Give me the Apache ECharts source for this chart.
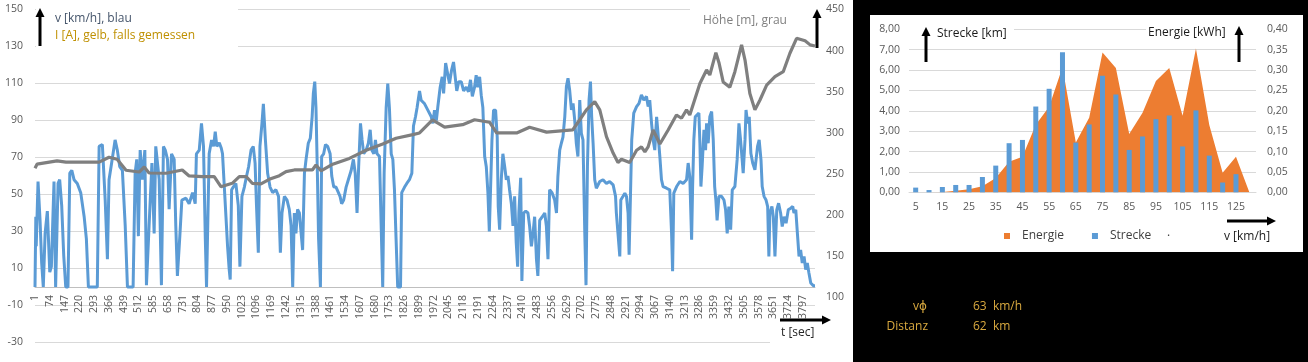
<!DOCTYPE html>
<html><head><meta charset="utf-8">
<script src="https://cdn.jsdelivr.net/npm/echarts/dist/echarts.min.js"></script>
<style>html,body{margin:0;padding:0;background:#000;}#c{width:1308px;height:362px;}</style>
</head><body><div id="c"></div>
<script>
// ---- left chart: tick labels of the time axis (seconds) ----
const xTickLabels = [1,74,147,220,293,366,439,512,585,658,731,804,877,950,1023,1096,1169,1242,1315,1388,1461,1534,1607,1680,1753,1826,1899,1972,2045,2118,2191,2264,2337,2410,2483,2556,2629,2702,2775,2848,2921,2994,3067,3140,3213,3286,3359,3432,3505,3578,3651,3724,3797];

// speed v [km/h] : [t, v]
const speedSeries = [
[0,0],[4,38],[6,22],[15,57],[25,36],[33,13],[41,0],[50,29],[61,41],[73,8],[81,11],[94,57],[102,0],[114,56],[122,58],[132,44],[142,17],[152,0],[163,0],[172,61.5],[182,63],[193,58],[209,56],[226,51],[243,38],[254,26],[264,0],[308,0],[317,76],[333,77],[347,47],[358,15],[366,58],[383,70],[396,79.5],[407,74],[419,65],[432,63],[446,33],[457,0],[485,0],[495,61.5],[503,69],[511,27.5],[520,74],[531,58],[543,74],[551,1],[564,33],[578,67],[589,29],[597,76],[614,58],[625,1],[635,76],
[644,74],[655,69],[663,42],[675,72],[688,69],[696,33],[704,6],[716,27.5],[726,47],[746,48],[762,45],[779,51],[792,45],[798,72],[812,74],[823,88.5],[833,76],[842,26],[848,0],[855,0],[861,72],[873,79.5],[883,76],[891,84],[899,76],[911,78],[921,75],[927,72],[936,54],[944,38],[952,22],[960,9.5],[965,4],[972,52.6],[980,54],[993,56],[1005,44],[1013,11],[1023,49],[1035,54],[1046,60],[1056,65],[1068,74],[1079,76],[1088,67],[1095,44],[1104,18.5],[1112,76],[1122,88.5],[1129,99],[1139,79.5],[1150,61.5],[1162,54],[1175,51],[1191,52.6],[1204,49],[1213,18.5],[1221,40],[1233,49],[1246,47],[1257,42],[1266,33],[1274,0],
[1282,40],[1290,29],[1298,42],[1307,40],[1315,41],[1323,20],[1332,61.5],[1340,69],[1351,77.7],[1361,80.4],[1370,92],[1376,104.6],[1383,111],[1389,97],[1396,61.5],[1402,26],[1411,0],[1417,70.5],[1427,72],[1436,77],[1447,76],[1459,72],[1467,60],[1477,54],[1488,54],[1500,51],[1508,49],[1516,45],[1526,47],[1538,54],[1549,58],[1563,63],[1574,69],[1583,61.5],[1592,40],[1600,65],[1609,88.5],[1617,79.5],[1625,72],[1637,74],[1648,77.7],[1657,85],[1665,74],[1675,72],[1683,79.5],[1691,72],[1703,70.5],[1711,34.6],[1719,0],[1726,61.5],[1736,97],[1744,110],[1752,97],[1761,72],[1769,69],[1777,52.6],[1785,26],[1793,0],[1807,0],[1813,51],[1827,54],[1838,56],[1851,58],[1863,61.5],[1871,87],[1881,92],[1889,97],[1901,106],[1909,101],
[1926,99],[1942,95.6],[1959,92],[1967,88.5],[1975,95.6],[1984,90],[1991,97],[2003,108],[2013,113.6],[2020,104.6],[2030,121],[2039,121],[2049,110],[2059,117],[2069,121.6],[2078,121],[2085,106],[2095,111],[2107,111],[2119,106],[2132,108],[2143,105.5],[2153,112],[2162,103],[2173,108],[2181,114.5],[2189,108],[2198,113.6],[2206,103.7],[2214,97],[2223,70.5],[2231,65],[2239,51],[2246,30],[2252,52.6],[2259,79.5],[2267,95.6],[2277,95.6],[2285,81],[2290,43.6],[2297,31],[2305,58],[2313,72],[2322,65],[2330,58],[2338,60],[2346,52.6],[2355,45],[2363,33],[2371,49],[2379,24],[2386,11],[2392,40],[2401,59],[2407,3.3],[2416,40],[2426,41],[2437,40],[2445,33],[2454,22],[2462,29],[2470,38],[2479,15],[2486,6],[2495,36],[2508,38],[2520,40],[2528,33],[2536,15],[2544,52.6],[2556,51],
[2569,47],[2578,40],[2585,59.7],[2594,74],[2602,77.7],[2610,81],[2619,92],[2627,108.3],[2635,112.8],[2643,106.5],[2652,95.7],[2660,99.3],[2668,90.3],[2676,77.7],[2684,70.5],[2693,101],[2701,83],[2709,79.5],[2718,29],[2724,1],[2731,65],[2739,101],[2746,111],[2752,92],[2759,77.7],[2767,58],[2775,53.4],[2792,57],[2808,58],[2825,56],[2841,57],[2858,55.2],[2870,49],[2874,40],[2882,29],[2891,16.5],[2896,47],[2907,49],[2916,50.7],[2924,49],[2932,40],[2937,17.4],[2944,50.7],[2950,79.5],[2960,94],[2974,97.5],[2986,99.3],[2998,103.8],[3010,101],[3023,103],[3031,97.5],[3039,101],[3048,88.5],[3056,79.5],[3064,74],[3073,92],[3080,83],[3089,70.5],[3097,58],[3105,54.3],[3122,53.4],[3138,52.5],[3147,29],[3152,8.5],[3158,50.7],[3172,54.3],[3188,57],[3204,56],
[3221,58],[3229,67],[3237,59.7],[3246,25.5],[3251,54.3],[3257,79.5],[3264,92],[3273,93],[3282,94],[3287,77.7],[3292,54.3],[3298,65],[3307,85],[3315,74],[3320,88.5],[3328,77.7],[3336,92],[3345,94.8],[3353,79.5],[3360,54.3],[3366,47],[3372,36],[3381,49],[3394,49],[3406,47],[3414,41.7],[3422,29],[3430,43.5],[3439,31],[3447,52.5],[3460,54.3],[3471,68.7],[3480,88.5],[3488,79.5],[3496,68.7],[3501,61.5],[3510,79.5],[3515,95.7],[3523,88.5],[3531,92],[3539,72.3],[3548,67],[3559,63.3],[3572,76],[3580,79.5],[3589,68.7],[3595,54.3],[3604,49],[3614,47],[3622,43.5],[3628,16.5],[3633,40],[3643,43.5],[3650,38],[3658,16.5],[3667,41.7],[3676,45.3],[3686,40],[3694,32.7],[3703,38],[3713,34.5],[3724,41.7],[3736,42.6],[3746,43.5],[3752,40],[3761,41.7],[3769,29],[3777,16.5],[3785,20],[3793,13],[3802,16.5],[3810,9.4],[3818,13],[3826,7.6],[3835,2.2],[3848,0.7],[3856,0.7]
];

// altitude Höhe [m] : [t, h]
const altitudeSeries = [
[0,257],[10,262],[109,266],[153,264.5],[317,264.5],[366,270.5],[406,268],[450,254.6],[515,252.5],[540,258.6],[564,251.3],[648,251],[728,255],[762,247.7],[827,247],[886,247],[919,234.7],[975,238.8],[1010,247],[1044,247],[1074,238.8],[1117,238],[1158,243.6],[1208,248],[1241,253],[1282,255],[1371,255],[1389,261],[1414,254],[1472,262],[1554,269],[1637,279],[1719,286.5],[1785,293.5],[1868,298],[1901,300],[1965,316],[2025,307],[2114,310],[2173,316],[2247,313],[2282,300],[2381,300],[2445,307],[2529,301],[2658,303.6],[2693,316],[2726,328],[2767,338],[2792,328],[2825,295.4],[2858,275.5],[2882,264],[2899,268],[2940,264],[2974,279],[2998,283],[3015,277],[3031,283],[3056,303.6],[3089,286.6],[3130,303.6],[3171,321.8],[3196,317.8],[3221,328],[3237,321.8],[3287,360],[3320,376.5],[3336,370.4],[3366,397.5],[3382,384.6],[3402,362],[3435,355.4],[3460,374.4],[3493,406.9],[3510,388.6],[3534,348],[3559,328],[3584,340],[3617,358],[3658,368.3],[3699,374.4],[3732,396.8],[3765,415],[3807,412],[3832,407],[3856,405.6]
];

// ---- right chart ----
const speedClasses = ['5','10','15','20','25','30','35','40','45','50','55','60','65','70','75','80','85','90','95','100','105','110','115','120','125','130'];
const energie = [0,0,0.001,0.0035,0.0075,0.015,0.035,0.075,0.0875,0.166,0.21,0.307,0.1225,0.183,0.343,0.305,0.143,0.195,0.273,0.305,0.188,0.353,0.165,0.048,0.0875,0];
const strecke = [0.23,0.11,0.26,0.36,0.36,0.75,1.31,2.41,2.57,4.21,5.08,6.87,2.44,3.33,5.72,4.80,2.08,2.74,3.59,3.77,2.25,4.02,1.80,0.48,0.89,0];

const FONT = '"Open Sans", "DejaVu Sans", sans-serif';
const AX = '#595959', GRID = '#D9D9D9', GOLD = '#D9A93F';
const comma = (d) => (v) => v.toFixed(d).replace('.', ',');

function txt(x, y, s, fill, align, size) {
  return { type: 'text', x: x, y: y, z: 60,
    style: { text: s, fill: fill, font: (size || 12) + 'px ' + FONT, align: align || 'left', verticalAlign: 'middle' } };
}
function cover(x, y, w, h) {
  return { type: 'rect', z: 50, shape: { x: x, y: y, width: w, height: h }, style: { fill: '#fff' } };
}
function vArrow(x, yTop, yBot) {
  return [
    { type: 'line', z: 61, shape: { x1: x, y1: yBot, x2: x, y2: yTop + 7 }, style: { stroke: '#000', lineWidth: 3 } },
    { type: 'polygon', z: 61, shape: { points: [[x, yTop], [x - 4.5, yTop + 9], [x + 4.5, yTop + 9]] }, style: { fill: '#000' } }
  ];
}
function hArrow(y, xL, xR) {
  return [
    { type: 'line', z: 61, shape: { x1: xL, y1: y, x2: xR - 7, y2: y }, style: { stroke: '#000', lineWidth: 3 } },
    { type: 'polygon', z: 61, shape: { points: [[xR, y], [xR - 9, y - 4.5], [xR - 9, y + 4.5]] }, style: { fill: '#000' } }
  ];
}
const G = { outerBoundsMode: 'none', containLabel: false };
const tickFmt = function (val) { const i = Math.round(val / 73); return (Math.abs(i * 73 - val) < 1e-6 && i < xTickLabels.length) ? String(xTickLabels[i]) : ''; };

const chart = echarts.init(document.getElementById('c'), null, { renderer: 'canvas' });
chart.setOption({
  animation: false,
  backgroundColor: '#000',
  textStyle: { fontFamily: FONT },
  grid: [
    Object.assign({ left: 35, top: 9.5, width: 780, height: 333 }, G),     // speed
    Object.assign({ left: 35, top: 9.5, width: 780, height: 288 }, G),     // altitude
    Object.assign({ left: 909, top: 29.3, width: 347, height: 163 }, G),   // histogram
    Object.assign({ left: 35, top: 9.5, width: 780, height: 277.5 }, G)    // time axis at v = 0
  ],
  legend: {
    data: [{ name: 'Energie', icon: 'rect' }, { name: 'Strecke', icon: 'rect' }],
    left: 999, top: 225, itemWidth: 6, itemHeight: 6, itemGap: 28,
    textStyle: { fontSize: 12, color: '#404040', fontFamily: FONT, padding: [0, 0, 0, 7] }
  },
  xAxis: [
    { type: 'value', gridIndex: 0, min: 0, max: 3856, show: false, splitLine: { show: false } },
    { type: 'value', gridIndex: 1, min: 0, max: 3856, show: false, splitLine: { show: false } },
    { type: 'category', gridIndex: 2, data: speedClasses, boundaryGap: true,
      axisLine: { lineStyle: { color: GRID } }, axisTick: { show: false },
      axisLabel: { interval: 1, fontSize: 10.5, color: AX, margin: 9 } },
    { type: 'value', gridIndex: 3, min: 0, max: 3856, interval: 73, position: 'bottom',
      axisLine: { show: true, onZero: false, lineStyle: { color: '#BFBFBF' } }, axisTick: { show: false }, splitLine: { show: false },
      axisLabel: { rotate: 90, fontSize: 10.5, color: AX, margin: 8, showMaxLabel: false, formatter: tickFmt } }
  ],
  yAxis: [
    { type: 'value', gridIndex: 0, min: -30, max: 150, interval: 20,
      axisLine: { show: false }, axisTick: { show: false },
      splitLine: { lineStyle: { color: GRID } }, axisLabel: { fontSize: 10.5, color: AX, margin: 12 } },
    { type: 'value', gridIndex: 1, position: 'right', min: 100, max: 450, interval: 50,
      axisLine: { show: false }, axisTick: { show: false }, splitLine: { show: false },
      axisLabel: { fontSize: 10.5, color: AX, margin: 11 } },
    { type: 'value', gridIndex: 2, min: 0, max: 8, interval: 1,
      axisLine: { show: false }, axisTick: { show: false },
      splitLine: { lineStyle: { color: GRID } }, axisLabel: { fontSize: 10.5, color: AX, margin: 9, formatter: comma(2) } },
    { type: 'value', gridIndex: 2, position: 'right', min: 0, max: 0.4, interval: 0.05,
      axisLine: { show: false }, axisTick: { show: false }, splitLine: { show: false },
      axisLabel: { fontSize: 10.5, color: AX, margin: 11, formatter: comma(2) } },
    { type: 'value', gridIndex: 3, min: 0, max: 150, show: false, splitLine: { show: false } }
  ],
  series: [
    { name: 'v', type: 'line', xAxisIndex: 0, yAxisIndex: 0, data: speedSeries, showSymbol: false, z: 2,
      lineStyle: { color: '#5B9BD5', width: 3 }, itemStyle: { color: '#5B9BD5' } },
    { name: 'Höhe', type: 'line', xAxisIndex: 1, yAxisIndex: 1, data: altitudeSeries, showSymbol: false, z: 3,
      lineStyle: { color: '#7F7F7F', width: 3.2 }, itemStyle: { color: '#7F7F7F' } },
    { name: 'Energie', type: 'line', xAxisIndex: 2, yAxisIndex: 3, data: energie, showSymbol: false, z: 2,
      color: '#ED7D31', lineStyle: { width: 0 }, areaStyle: { color: '#ED7D31', opacity: 1 } },
    { name: 'Strecke', type: 'bar', xAxisIndex: 2, yAxisIndex: 2, data: strecke, barWidth: 5, z: 3,
      itemStyle: { color: '#5B9BD5' } }
  ],
  graphic: { elements: [
    { type: 'rect', z: -10, shape: { x: 0, y: 0, width: 853, height: 362 }, style: { fill: '#fff' } },
    { type: 'rect', z: -10, shape: { x: 870, y: 15, width: 433, height: 237 }, style: { fill: '#fff' } },
    cover(36, 0, 202, 49), cover(690, 0, 126, 30), cover(770, 326, 82, 26),
    cover(906, 20, 108, 22), cover(1146, 20, 112, 22),
    txt(55, 19, 'v [km/h], blau', '#44546A'),
    txt(55, 36, 'I [A], gelb, falls gemessen', '#BF9000'),
    txt(703, 21, 'Höhe [m], grau', '#7F7F7F'),
    txt(781, 333, 't [sec]', '#262626'),
    txt(937, 34, 'Strecke [km]', '#1A1A1A'),
    txt(1148, 33, 'Energie [kWh]', '#1A1A1A'),
    txt(1224, 237, 'v [km/h]', '#1A1A1A'),
    txt(1167, 233, '.', '#404040'),
    txt(927, 307, 'vϕ', GOLD, 'right'),
    txt(973, 307, '63  km/h', GOLD),
    txt(928, 327, 'Distanz', GOLD, 'right'),
    txt(973, 327, '62  km', GOLD)
  ].concat(vArrow(40, 8, 46), vArrow(817, 9, 48), hArrow(320, 780, 831),
           vArrow(926, 27, 62), vArrow(1239, 26, 62), hArrow(221, 1227, 1276)) }
});
</script></body></html>
